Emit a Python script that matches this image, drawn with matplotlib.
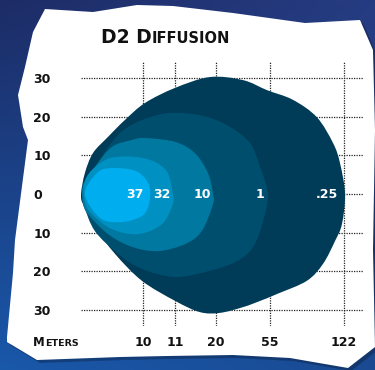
import numpy as np
import matplotlib.pyplot as plt
from matplotlib.path import Path
from matplotlib.patches import PathPatch, Polygon

# beam outlines, x = throw position on chart, y = spread (deg)
outline_025 = [(0, 0), (1.0, 5.4), (3.1, 10.6), (7.0, 14.8), (11.4, 19.2), (16.6, 23.6),
               (24.4, 27.5), (33.4, 30.3), (42.0, 29.5), (48.2, 26.9), (54.9, 24.4),
               (61.1, 19.9), (65.3, 13.2), (67.1, 8.0), (68.4, 0), (67.6, -7.8),
               (65.8, -12.2), (62.7, -18.1), (58.5, -22.5), (50.8, -25.9), (46.4, -27.7),
               (42.0, -29.3), (36.0, -30.8), (30.8, -30.6), (24.4, -27.7), (15.8, -22.5),
               (8.8, -15.5), (3.6, -8.5), (0.5, -2.6)]
outline_1 = [(0.3, 0), (1.8, 3.6), (7.0, 12.2), (12.2, 17.4), (19.9, 20.5), (26.2, 21.0),
             (32.9, 19.9), (38.6, 17.4), (43.8, 13.2), (46.4, 7.0), (48.4, 0), (47.2, -7.0),
             (44.6, -13.7), (40.4, -17.4), (33.4, -19.9), (24.4, -21.5), (15.8, -19.4),
             (9.6, -15.5), (3.6, -9.6), (0.8, -3.1)]
outline_10 = [(0.5, 2.3), (3.6, 7.0), (8.0, 12.2), (13.2, 14.0), (16.6, 14.5), (24.4, 13.5),
              (29.5, 10.6), (32.9, 5.4), (34.2, 0), (34.2, -2.6), (31.3, -9.6), (26.9, -13.0),
              (19.9, -14.8), (13.2, -13.7), (7.0, -10.4), (1.8, -5.2), (0.5, -2.3)]
outline_32 = [(0.8, 2.6), (2.8, 6.2), (7.5, 9.3), (14.0, 9.6), (19.2, 8.3), (22.5, 5.4),
              (23.8, 0), (23.8, -2.6), (21.0, -7.8), (14.8, -10.4), (8.0, -9.1), (2.8, -5.2),
              (1.0, -2.1)]
outline_37 = [(1.0, 0), (4.1, 5.4), (7.5, 6.7), (13.5, 6.2), (16.6, 4.1), (17.9, 1.0),
              (17.4, -3.4), (15.3, -6.0), (10.1, -7.3), (4.9, -6.2)]

lux_labels = [".25", "1", "10", "32", "37"]
lux_label_x = [63.7, 46.4, 31.3, 21.0, 14.0]
layer_colors = ["#003b57", "#004e6e", "#00789f", "#0090c2", "#00adee"]

dist_pos = [16.1, 24.4, 35.0, 49.0, 68.1]
dist_labels = ["10", "11", "20", "55", "122"]
spread_ticks = [30, 20, 10, 0, -10, -20, -30]


def smooth_path(pts):
    # closed catmull-rom -> bezier
    p = np.array(pts, dtype=float)
    n = len(p)
    verts = [p[0]]
    codes = [Path.MOVETO]
    for i in range(n):
        p0, p1, p2, p3 = p[i - 1], p[i], p[(i + 1) % n], p[(i + 2) % n]
        verts += [p1 + (p2 - p0) / 6, p2 - (p3 - p1) / 6, p2]
        codes += [Path.CURVE4] * 3
    return Path(verts, codes)


fig = plt.figure(figsize=(3.75, 3.70), dpi=100)

# background + paper sheet (pixel coords)
bg = fig.add_axes([0, 0, 1, 1])
bg.set_xlim(0, 375)
bg.set_ylim(370, 0)
bg.axis("off")
tl = np.array([0x1d, 0x2c, 0x66]) / 255
tr = np.array([0x26, 0x3c, 0x82]) / 255
bl = np.array([0x19, 0x58, 0xaa]) / 255
br = np.array([0x1a, 0x4a, 0x92]) / 255
u = np.linspace(0, 1, 375)[None, :, None]
v = np.linspace(0, 1, 370)[:, None, None]
img = (1 - v) * ((1 - u) * tl + u * tr) + v * ((1 - u) * bl + u * br)
bg.imshow(img, extent=(0, 375, 370, 0), aspect="auto")

paper = [(45, 9), (93, 12), (137, 5), (173, 6), (233, 13), (305, 23), (360, 20), (373, 50),
         (375, 130), (373, 250), (375, 347), (348, 368), (290, 358), (233, 355), (167, 356),
         (120, 357), (37, 360), (7, 342), (7, 337), (13, 273), (15, 240), (28, 140), (23, 127),
         (18, 95), (25, 67), (33, 32)]
bg.add_patch(Polygon([(x + 3, y + 3) for x, y in paper], closed=True, fc="black", alpha=0.25, lw=0))
bg.add_patch(Polygon(paper, closed=True, fc="white", ec="none"))

t1 = bg.text(101, 43, "D2 D", fontsize=13.5, fontweight="bold", color="#111111", va="baseline")
m1 = bg.text(33, 346, "M", fontsize=8.5, fontweight="bold", color="#111111", va="baseline")
fig.canvas.draw()
inv = bg.transData.inverted()
x1 = inv.transform((t1.get_window_extent().x1, 0))[0]
bg.text(x1, 43, "IFFUSION", fontsize=10.5, fontweight="bold", color="#111111", va="baseline")
x2 = inv.transform((m1.get_window_extent().x1, 0))[0]
bg.text(x2, 346, "ETERS", fontsize=6.8, fontweight="bold", color="#111111", va="baseline")

# chart
ax = fig.add_axes([81 / 375, 44 / 370, 282 / 375, 264 / 370])
ax.set_facecolor("none")
ax.set_xlim(0, 73.06)
ax.set_ylim(-34.2, 34.2)
for s in ax.spines.values():
    s.set_visible(False)
ax.set_xticks(dist_pos)
ax.set_xticklabels(dist_labels, fontsize=9, fontweight="bold", color="#111111")
ax.set_yticks(spread_ticks)
ax.set_yticklabels([str(abs(t)) for t in spread_ticks], fontsize=9, fontweight="bold",
                   color="#111111", ha="left")
ax.tick_params(axis="x", length=0, pad=7)
ax.tick_params(axis="y", length=0, pad=34.5)
ax.grid(True, color="#222222", linestyle=(0, (1, 1)), linewidth=0.9)
ax.set_axisbelow(True)

outlines = [outline_025, outline_1, outline_10, outline_32, outline_37]
for i, (pts, c) in enumerate(zip(outlines, layer_colors)):
    ax.add_patch(PathPatch(smooth_path(pts), fc=c, ec="none", zorder=2 + i))

for lab, x in zip(lux_labels, lux_label_x):
    ax.text(x, 0, lab, color="white", fontsize=9, fontweight="bold", ha="center",
            va="center", zorder=10)

fig.savefig("out.png", dpi=100)
